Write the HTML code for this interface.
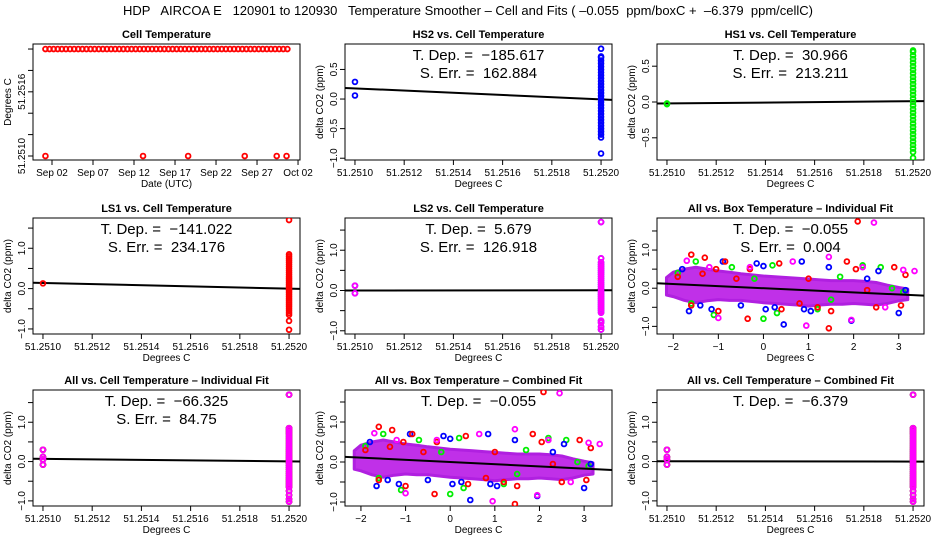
<!DOCTYPE html>
<html><head><meta charset="utf-8">
<style>
html,body{margin:0;padding:0;background:#fff;}
svg{display:block;font-family:"Liberation Sans",sans-serif;}
svg text{white-space:pre;}
</style></head>
<body>
<svg id="chart" width="936" height="540" viewBox="0 0 936 540" xmlns="http://www.w3.org/2000/svg" xml:space="preserve">
<rect width="936" height="540" fill="#fff"/>
<text x="468" y="15" text-anchor="middle" font-size="13">HDP   AIRCOA E   120901 to 120930   Temperature Smoother – Cell and Fits ( –0.055  ppm/boxC +  –6.379  ppm/cellC)</text>
</svg>
<script>
// ---------- data ----------
const cellTempTopDays = [1.2,1.7,2.2,2.7,3.2,3.7,4.2,4.7,5.2,5.7,6.2,6.7,7.2,7.7,8.2,8.7,9.2,9.7,10.2,10.7,11.2,11.7,12.2,12.7,13.2,13.7,14.2,14.7,15.2,15.7,16.2,16.7,17.2,17.7,18.2,18.7,19.2,19.7,20.2,20.7,21.2,21.7,22.2,22.7,23.2,23.7,24.2,24.7,25.2,25.7,26.2,26.7,27.2,27.7,28.2,28.7,29.2,29.7,30.2,30.7];
const cellTempTopValue = 51.2520;
const cellTempLowDays = [1.2,13.1,18.6,25.5,29.4,30.6];
const cellTempLowValue = 51.2510;
const dateTickDays = [2,7,12,17,22,27,32];
const dateTickLabels = ["Sep 02","Sep 07","Sep 12","Sep 17","Sep 22","Sep 27","Oct 02"];

const cellXTicks = [51.2510,51.2512,51.2514,51.2516,51.2518,51.2520];
const cellXLabels = ["51.2510","51.2512","51.2514","51.2516","51.2518","51.2520"];
const boxXTicks = [-2,-1,0,1,2,3];
const boxXLabels = ["−2","−1","0","1","2","3"];

const hs2Low = [0.29,0.06];
const hs2Col = [-0.92,-0.65,-0.6,-0.55,-0.5,-0.45,-0.4,-0.35,-0.3,-0.25,-0.2,-0.15,-0.1,-0.05,0,0.05,0.1,0.15,0.2,0.25,0.3,0.35,0.4,0.45,0.5,0.55,0.6,0.65,0.7,0.72,0.85];
const hs2Fit = [0.18,-185.617];
const hs1Low = [-0.02,-0.03];
const hs1Col = [-0.78,-0.7,-0.65,-0.6,-0.55,-0.5,-0.45,-0.4,-0.35,-0.3,-0.25,-0.2,-0.15,-0.1,-0.05,0,0.05,0.1,0.15,0.2,0.25,0.3,0.35,0.4,0.45,0.5,0.55,0.6,0.65,0.7,0.72];
const hs1Fit = [-0.02,30.966];
const ls1Low = [0.13];
const ls1Col = [-1.02,-0.8,-0.65,-0.6,-0.55,-0.5,-0.45,-0.4,-0.35,-0.3,-0.25,-0.2,-0.15,-0.1,-0.05,0,0.05,0.1,0.15,0.2,0.25,0.3,0.35,0.4,0.45,0.5,0.55,0.6,0.65,0.7,0.75,0.8,0.85,1.7];
const ls1Fit = [0.14,-141.022];
const ls2Low = [0.12,-0.07];
const ls2Col = [-0.97,-0.9,-0.8,-0.75,-0.55,-0.5,-0.45,-0.4,-0.35,-0.3,-0.25,-0.2,-0.15,-0.1,-0.05,0,0.05,0.1,0.15,0.2,0.25,0.3,0.35,0.4,0.45,0.5,0.55,0.6,0.65,0.7,0.8,1.7];
const ls2Fit = [0.0,5.679];
const allLow = [0.3,0.12,0.05,-0.08];
const allCol = [-1.02,-0.95,-0.85,-0.75,-0.65,-0.6,-0.55,-0.5,-0.45,-0.4,-0.35,-0.3,-0.25,-0.2,-0.15,-0.1,-0.05,0,0.05,0.1,0.15,0.2,0.25,0.3,0.35,0.4,0.45,0.5,0.55,0.6,0.65,0.7,0.75,0.8,0.85,1.7];
const allCellIndFit = [0.07,-66.325];
const allCellCombFit = [0.0065,-6.379];

const bandX  = [-2.15,-2,-1.75,-1.5,-1.25,-1,-0.75,-0.5,-0.25,0,0.25,0.5,0.75,1,1.25,1.5,1.75,2,2.25,2.5,2.75,3,3.2];
const bandHi = [0.28,0.42,0.5,0.55,0.5,0.45,0.42,0.38,0.35,0.32,0.3,0.28,0.26,0.24,0.22,0.2,0.2,0.2,0.18,0.15,0.08,0.02,-0.02];
const bandLo = [-0.18,-0.22,-0.32,-0.38,-0.33,-0.3,-0.32,-0.32,-0.35,-0.38,-0.4,-0.42,-0.44,-0.47,-0.44,-0.42,-0.42,-0.4,-0.42,-0.44,-0.4,-0.33,-0.3];
const redPts = [[2.09,1.75],[1.45,-1.05],[1.85,0.7],[-1.6,0.88],[-1.3,0.8],[-0.85,0.7],[-1.05,0.5],[-0.3,0.5],[0.35,0.65],[-1.0,-0.6],[-0.35,-0.8],[0.4,-0.55],[1.5,-0.6],[2.05,0.5],[2.9,0.55],[3.15,0.35],[3.05,-0.45],[-1.6,-0.45],[2.3,-0.05],[0.8,-0.4],[1.2,-0.5],[-1.35,0.38],[-0.6,0.25],[-1.9,0.3],[2.5,-0.5],[1.0,0.25]];
const bluePts = [[1.95,-0.85],[0.45,-0.95],[-1.65,-0.6],[-1.15,-0.55],[-0.5,-0.45],[0.05,-0.55],[0.25,-0.5],[0.85,0.7],[-0.15,0.65],[0.0,0.58],[2.55,0.45],[3.0,-0.65],[1.45,0.55],[2.3,0.25],[-1.4,-0.45],[-1.8,0.5],[1.05,-0.6],[3.15,-0.05],[-0.9,0.7],[0.9,-0.55]];
const greenPts = [[0.0,-0.8],[-1.1,-0.7],[0.3,-0.65],[0.2,0.6],[-1.5,0.7],[-0.7,0.55],[1.7,0.3],[2.6,0.55],[2.85,0.0],[1.5,-0.3],[-1.9,0.4],[1.2,-0.55],[-0.2,0.25],[2.2,0.6],[-1.6,-0.4],[3.1,-0.1]];
const magPts = [[2.45,1.72],[0.95,-0.98],[1.95,-0.83],[3.35,0.45],[3.1,0.48],[1.45,0.82],[0.65,0.7],[-1.0,-0.78],[-0.3,0.55],[-1.7,0.72],[2.2,0.55],[-1.2,0.55],[2.7,-0.5]];
const boxFit = [0.0,-0.055];

// ---------- drawing ----------
const NS = "http://www.w3.org/2000/svg";
const svg = document.getElementById('chart');
function mk(tag, parent, attrs){ const e=document.createElementNS(NS,tag); for(const k in attrs) e.setAttribute(k,attrs[k]); parent.appendChild(e); return e; }
const colL=[33,345,657], rowT=[44,218,390], W=267, H=116;
let clipId=0;

function panel(o){
  const L=colL[o.col], T=rowT[o.row];
  const g=mk('g',svg,{});
  
  
  const sx=v=>L+(v-o.xd[0])/(o.xd[1]-o.xd[0])*W;
  const sy=v=>T+(o.yd[1]-v)/(o.yd[1]-o.yd[0])*H;
  const t=mk('text',g,{x:L+W/2,y:T-6,'text-anchor':'middle','font-size':11,'font-weight':'bold'});
  t.textContent=o.title;
  
  
  const xa=mk('g',g,{stroke:'#000','stroke-width':1});
  
  
  mk('line',xa,{x1:sx(o.xt[0]),x2:sx(o.xt[o.xt.length-1]),y1:T+H,y2:T+H});
  o.xt.forEach((v,i)=>{
    mk('line',xa,{x1:sx(v),x2:sx(v),y1:T+H,y2:T+H+5});
    const lb=mk('text',g,{x:sx(v),y:T+H+16,'text-anchor':'middle','font-size':10});
    lb.textContent=o.xl[i];
    
    
  });
  const xt=mk('text',g,{x:L+W/2,y:T+H+27,'text-anchor':'middle','font-size':10});
  xt.textContent=o.xtitle;
  
  
  const ya=mk('g',g,{stroke:'#000','stroke-width':1});
  
  
  mk('line',ya,{x1:L,x2:L,y1:sy(o.yt[0]),y2:sy(o.yt[o.yt.length-1])});
  o.yt.forEach((v,i)=>{
    mk('line',ya,{x1:L-5,x2:L,y1:sy(v),y2:sy(v)});
    if(o.yl[i]){
      const lb=mk('text',g,{x:L-8,y:sy(v),'text-anchor':'middle','font-size':10,transform:`rotate(-90 ${L-8} ${sy(v)})`});
      lb.textContent=o.yl[i];
      
      
    }
  });
  const yt=mk('text',g,{x:L-22,y:T+H/2,'text-anchor':'middle','font-size':10,transform:`rotate(-90 ${L-22} ${T+H/2})`});
  yt.textContent=o.ytitle;
  
  
  const box=mk('rect',g,{x:L,y:T,width:W,height:H,fill:'none',stroke:'#000','stroke-width':1});
  
  
  clipId++;
  const cp=mk('clipPath',g,{id:'c'+clipId});
  mk('rect',cp,{x:L,y:T,width:W,height:H});
  const plot=mk('g',g,{'clip-path':`url(#c${clipId})`});
  (o.notes||[]).forEach((s,i)=>{
    const a=mk('text',g,{x:L+W/2,y:T+16+18*i,'text-anchor':'middle','font-size':15});
    a.textContent=s;
    
    
  });
  return {g:plot,sx,sy,L,T};
}
function pt(p,x,y,color){
  const c=mk('circle',p.g,{cx:p.sx(x),cy:p.sy(y),r:2.4,fill:'none',stroke:color,'stroke-width':1.8});
  
  
}
function fitLine(p,xd,x0,fit){
  const f=x=>fit[0]+fit[1]*(x-x0);
  const l=mk('line',p.g,{x1:p.sx(xd[0]),y1:p.sy(f(xd[0])),x2:p.sx(xd[1]),y2:p.sy(f(xd[1])),stroke:'#000','stroke-width':2});
  
  
}
const cellXd=[51.2509595,51.2520445];
const dYT=[-1,-0.5,0,0.5,1,1.5], dYL=["−1.0","","0.0","","1.0",""];

{
  const p=panel({name:'cell-temperature-panel',col:0,row:0,title:'Cell Temperature',xd:[-0.317,32.24],yd:[51.2509626,51.252047],
    xt:dateTickDays,xl:dateTickLabels,yt:[51.2510,51.2512,51.2514,51.2516,51.2518,51.2520],yl:["51.2510","","","51.2516","",""],xtitle:'Date (UTC)',ytitle:'Degrees C'});
  cellTempTopDays.forEach(d=>pt(p,d,cellTempTopValue,'#ff0000'));
  cellTempLowDays.forEach(d=>pt(p,d,cellTempLowValue,'#ff0000'));
}
function cellPanel(name,col,row,title,yd,yt,yl,low,colv,colors,fit,notes){
  const p=panel({name,col,row,title,xd:cellXd,yd,xt:cellXTicks,xl:cellXLabels,yt,yl,xtitle:'Degrees C',ytitle:'delta CO2 (ppm)',notes});
  fitLine(p,cellXd,51.2510,fit);
  colors.forEach(c=>{
    low.forEach(v=>pt(p,51.2510,v,c));
    colv.forEach(v=>pt(p,51.2520,v,c));
  });
}
cellPanel('hs2-panel',1,0,'HS2 vs. Cell Temperature',[-1.03,0.93],[-1,-0.5,0,0.5],["−1.0","−0.5","0.0","0.5"],hs2Low,hs2Col,['#0000ff'],hs2Fit,["T. Dep. =  −185.617","S. Err. =  162.884"]);
cellPanel('hs1-panel',2,0,'HS1 vs. Cell Temperature',[-0.81,0.81],[-0.5,0,0.5],["−0.5","0.0","0.5"],hs1Low,hs1Col,['#00ee00'],hs1Fit,["T. Dep. =  30.966","S. Err. =  213.211"]);
cellPanel('ls1-panel',0,1,'LS1 vs. Cell Temperature',[-1.125,1.75],dYT,dYL,ls1Low,ls1Col,['#ff0000'],ls1Fit,["T. Dep. =  −141.022","S. Err. =  234.176"]);
cellPanel('ls2-panel',1,1,'LS2 vs. Cell Temperature',[-1.08,1.8],dYT,dYL,ls2Low,ls2Col,['#0000ff','#ff00ff'],ls2Fit,["T. Dep. =  5.679","S. Err. =  126.918"]);
cellPanel('all-cell-individual-panel',0,2,'All vs. Cell Temperature – Individual Fit',[-1.13,1.82],dYT,dYL,allLow,allCol,['#0000ff','#00ee00','#ff0000','#ff00ff'],allCellIndFit,["T. Dep. =  −66.325","S. Err. =  84.75"]);
cellPanel('all-cell-combined-panel',2,2,'All vs. Cell Temperature – Combined Fit',[-1.13,1.82],dYT,dYL,allLow,allCol,['#0000ff','#00ee00','#ff0000','#ff00ff'],allCellCombFit,["T. Dep. =  −6.379"]);

function boxPanel(name,col,row,title,xd,yd,notes){
  const p=panel({name,col,row,title,xd,yd,xt:boxXTicks,xl:boxXLabels,yt:dYT,yl:dYL,xtitle:'Degrees C',ytitle:'delta CO2 (ppm)',notes});
  let d='';
  bandX.forEach((x,i)=>{d+=(i?'L':'M')+p.sx(x)+','+p.sy(bandHi[i]);});
  for(let i=bandX.length-1;i>=0;i--) d+='L'+p.sx(bandX[i])+','+p.sy(bandLo[i]);
  const band=mk('path',p.g,{d:d+'Z',fill:'#c030e8',stroke:'#b020e0','stroke-width':3,'stroke-linejoin':'round'});
  
  
  greenPts.forEach(q=>pt(p,q[0],q[1],'#00ee00'));
  bluePts.forEach(q=>pt(p,q[0],q[1],'#0000ff'));
  redPts.forEach(q=>pt(p,q[0],q[1],'#ff0000'));
  magPts.forEach(q=>pt(p,q[0],q[1],'#ff00ff'));
  fitLine(p,xd,0,boxFit);
}
boxPanel('all-box-individual-panel',2,1,'All vs. Box Temperature – Individual Fit',[-2.36,3.56],[-1.2,1.84],["T. Dep. =  −0.055","S. Err. =  0.004"]);
boxPanel('all-box-combined-panel',1,2,'All vs. Box Temperature – Combined Fit',[-2.357,3.625],[-1.1,1.8],["T. Dep. =  −0.055"]);
</script>
</body></html>
